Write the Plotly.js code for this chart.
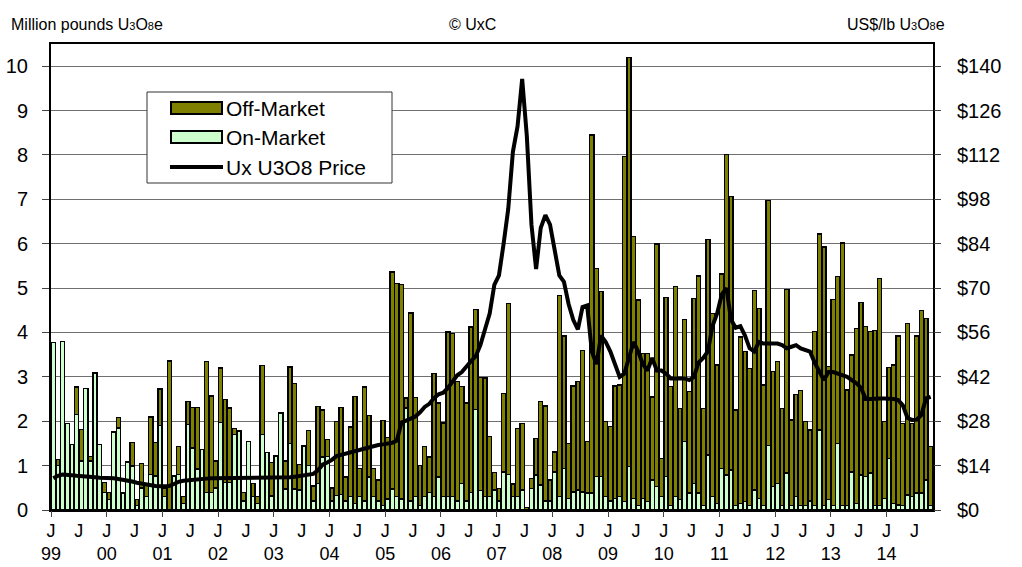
<!DOCTYPE html>
<html>
<head>
<meta charset="utf-8">
<script src="https://cdn.plot.ly/plotly-3.0.1.min.js"></script>
<style>
  html, body { margin: 0; padding: 0; background: #ffffff; }
  #chart { width: 1022px; height: 567px; }
</style>
</head>
<body>
<div id="chart"></div>
<script>
// Monthly data, Jan 1999 .. Oct 2014 (million pounds U3O8e)
const onMarket = [
  3.78, 1.0, 3.8, 1.95, 1.48, 2.15, 1.1, 2.74, 1.1, 3.09, 1.47, 0.39,
  0.24, 1.76, 1.85, 0.38, 1.08, 0.99, 0.1, 0.5, 0.3, 0.8, 0.77, 1.9,
  0.3, 0, 0.77, 0.8, 0.15, 1.93, 1.4, 0.92, 1.36, 0.39, 0.39, 0.5,
  1.97, 0.62, 0.62, 1.7, 1.78, 0.2, 1.55, 0.3, 0.15, 1.7, 1.3, 0.32,
  1.22, 2.19, 0.47, 1.5, 0.47, 0.45, 1.44, 1.0, 0.2, 0.6, 1.19, 1.2,
  0.2, 0.33, 0.35, 0.2, 0.3, 0.15, 0.3, 0.2, 0.74, 0.3, 0.2, 0.1,
  0.25, 0.47, 0.3, 0.25, 2.3, 0.2, 0.3, 0.1, 0.3, 0.4, 0.3, 0.74,
  0.3, 0.3, 0.3, 0.2, 0.6, 0.2, 0.4, 2.26, 0.44, 0.3, 0.3, 0.45,
  0.2, 0.86, 0.8, 0.3, 0.3, 0.45, 0, 0.49, 0.79, 0.56, 0.2, 0.2,
  0.86, 0.3, 0.94, 0.26, 0.41, 0.45, 0.41, 0.38, 0.38, 0.75, 0.75, 0.3,
  0.2, 0.26, 0.3, 0.19, 0.98, 0.26, 0.1, 0.26, 0.19, 0.68, 0.53, 0.3,
  0.75, 0.1, 0.3, 0.23, 1.54, 0.38, 0.6, 0.38, 0.1, 1.24, 0.3, 0.15,
  0.94, 0.79, 0.9, 0.1, 0.15, 0.19, 0.1, 0.45, 0.26, 0.1, 1.46, 0.53,
  0.6, 0.1, 0.83, 0.1, 0.3, 0.1, 0.1, 0.2, 0.1, 1.8, 0.1, 0.23,
  0.1, 1.5, 0.1, 0.1, 0.86, 0.15, 0.79, 0.75, 0.83, 0.1, 0.1, 0.26,
  1.16, 0.15, 0.11, 0.1, 0.34, 0.3, 0.38, 0.38, 0.68, 0.1
];
const offMarket = [
  0, 0.14, 0, 0, 0, 0.62, 0.72, 0, 0.1, 0, 0, 0.23,
  0.15, 0, 0.23, 0, 0, 0.53, 0.14, 0.55, 0.3, 1.3, 0.75, 0.83,
  0.2, 3.36, 0, 0.63, 0.15, 0.52, 0.91, 1.39, 0, 2.96, 2.18, 0.6,
  1.23, 1.87, 1.68, 0.13, 0, 0.2, 0, 0.3, 0.15, 1.56, 0, 0.75,
  0, 0, 0.63, 1.72, 2.38, 0.57, 0, 0.79, 0.34, 1.73, 1.06, 0.39,
  0.3, 1.67, 1.96, 0.54, 1.57, 2.41, 0.63, 2.57, 1.39, 0.63, 0.48, 1.92,
  1.39, 4.89, 4.81, 4.83, 0.22, 4.24, 2.24, 0.9, 1.13, 0.79, 2.77, 1.67,
  1.66, 3.71, 3.68, 2.7, 2.18, 2.21, 3.72, 2.26, 2.54, 2.67, 1.35, 0.39,
  0.29, 1.77, 3.85, 0.29, 1.54, 1.5, 0.05, 0.22, 0.82, 1.88, 2.14, 0.48,
  0.45, 4.54, 2.98, 1.24, 2.38, 2.44, 3.19, 1.16, 8.07, 4.69, 4.17, 1.69,
  1.68, 2.53, 2.52, 7.77, 9.22, 5.9, 4.63, 3.27, 3.34, 1.87, 5.46, 0.86,
  4.04, 2.68, 4.73, 2.06, 2.75, 2.29, 4.17, 4.89, 2.19, 4.86, 4.13, 3.12,
  4.38, 7.22, 6.16, 2.15, 3.75, 3.38, 3.09, 4.49, 4.28, 2.72, 5.52, 2.59,
  2.74, 2.19, 4.14, 1.93, 2.3, 2.59, 1.89, 1.6, 3.92, 4.42, 5.83, 3.0,
  4.64, 3.76, 5.92, 2.6, 2.63, 3.94, 3.88, 3.39, 3.19, 3.95, 5.12, 1.73,
  2.05, 3.12, 3.81, 1.85, 3.86, 1.65, 3.54, 4.12, 3.64, 1.33
];
// Ux U3O8 price, US$/lb, monthly
const uxPrice = [
  10.0, 10.8, 11.2, 11.2, 11.0, 10.8, 10.6, 10.5, 10.4, 10.3, 10.2, 10.2,
  10.1, 10.0, 9.8, 9.6, 9.3, 9.0, 8.6, 8.3, 8.0, 7.8, 7.6, 7.5,
  7.5, 7.6, 8.2, 8.9, 9.2, 9.4, 9.6, 9.7, 9.8, 9.9, 10.0, 10.0,
  10.1, 10.2, 10.2, 10.2, 10.2, 10.2, 10.1, 10.1, 10.2, 10.2, 10.2, 10.1,
  10.0, 10.0, 10.1, 10.3, 10.5, 10.7, 10.8, 11.0, 11.4, 12.5, 14.3, 15.0,
  15.8, 17.0, 17.4, 17.8, 18.2, 18.6, 19.0, 19.5, 20.0, 20.3, 20.5, 20.7,
  20.8, 21.2, 21.9, 27.6, 28.2, 28.8, 29.5, 30.8, 32.5, 33.5, 35.3, 36.5,
  37.0, 38.5, 40.5, 42.5, 43.5, 45.5, 47.0, 48.5, 52.0, 57.0, 62.0, 71.0,
  74.0, 84.0, 95.0, 113.0, 121.0, 136.0, 118.0, 90.0, 76.0, 89.0, 93.0, 90.0,
  82.0, 74.0, 72.0, 65.0, 60.0, 57.0, 64.0, 64.5, 50.0, 46.0, 55.0, 53.0,
  50.0, 46.0, 42.0, 43.0, 48.0, 53.0, 50.0, 46.0, 44.0, 48.0, 44.0, 44.0,
  43.0, 41.5, 41.5, 41.5, 41.5, 41.0, 42.0, 46.5, 48.0, 50.0, 58.0, 62.0,
  68.0, 70.0, 60.0, 57.5, 58.0, 55.0, 51.0, 50.0, 53.0, 52.5, 52.5, 52.5,
  52.5, 52.0, 51.0, 51.5, 52.0, 51.0, 50.5, 50.0, 46.5, 44.0, 41.0, 43.5,
  43.5, 43.0, 42.5, 42.0, 41.0, 40.0, 38.5, 35.0, 35.0, 35.2, 35.2, 35.2,
  35.2, 35.0, 34.7, 33.0, 29.0, 28.4, 28.5, 30.0, 35.2, 35.7
];
const yearLabels = ['99','00','01','02','03','04','05','06','07','08','09','10','11','12','13','14'];
const halfYearLabel = 'J';
const seriesNames = ['Off-Market', 'On-Market', 'Ux U3O8 Price'];
const seriesColors = ['#808000', '#CCFFCC', '#000000'];

const FONT = 'Liberation Sans, Arial, sans-serif';
const nMonths = onMarket.length;
const xMid = onMarket.map((_, i) => i + 0.5);

// plot-area geometry (pixels) used for header and legend placement
const W = 1022, H = 567, ML = 51, MR = 89, MT = 44, MB = 57;
const px = x => (x - ML) / (W - ML - MR);
const py = y => (H - MB - y) / (H - MT - MB);

// tick labels: J at Jan (with year) and Jul
const tickVals = [], tickText = [], yearTicks = [];
yearLabels.forEach((y, k) => {
  tickVals.push(k * 12); tickText.push(halfYearLabel + '<br>' + y);
  yearTicks.push(k * 12);
  if (k * 12 + 6 < nMonths) { tickVals.push(k * 12 + 6); tickText.push(halfYearLabel); }
});

const traces = [
  {
    type: 'bar', name: seriesNames[1], x: xMid, y: onMarket,
    marker: { color: seriesColors[1], line: { color: '#000000', width: 1.4 } },
    hoverinfo: 'skip'
  },
  {
    type: 'bar', name: seriesNames[0], x: xMid, y: offMarket,
    marker: { color: seriesColors[0], line: { color: '#000000', width: 1.4 } },
    hoverinfo: 'skip'
  },
  {
    type: 'scatter', mode: 'lines', name: seriesNames[2], x: xMid, y: uxPrice,
    xaxis: 'x2', yaxis: 'y2',
    line: { color: '#000000', width: 4 },
    hoverinfo: 'skip'
  }
];

const sub = s => '<span style="font-size:11px">' + s + '</span>';

// hand-built legend box (wide swatches as in the source chart)
const legBox = { x0: 147, y0: 92, x1: 392, y1: 183 };
const legRows = [108, 137, 167];
const shapes = [
  { type: 'rect', xref: 'paper', yref: 'paper', x0: px(legBox.x0), x1: px(legBox.x1),
    y0: py(legBox.y1), y1: py(legBox.y0), fillcolor: '#ffffff',
    line: { color: '#333333', width: 1 }, layer: 'above' },
  { type: 'rect', xref: 'paper', yref: 'paper', x0: px(171), x1: px(222),
    y0: py(legRows[0] + 6), y1: py(legRows[0] - 6), fillcolor: seriesColors[0],
    line: { color: '#000000', width: 2 }, layer: 'above' },
  { type: 'rect', xref: 'paper', yref: 'paper', x0: px(171), x1: px(222),
    y0: py(legRows[1] + 6), y1: py(legRows[1] - 6), fillcolor: seriesColors[1],
    line: { color: '#000000', width: 2 }, layer: 'above' },
  { type: 'line', xref: 'paper', yref: 'paper', x0: px(170), x1: px(223),
    y0: py(legRows[2]), y1: py(legRows[2]),
    line: { color: seriesColors[2], width: 4 }, layer: 'above' }
];
const legendNotes = seriesNames.map((name, k) => ({
  xref: 'paper', yref: 'paper', x: px(224), y: py(legRows[k]), xanchor: 'left', yanchor: 'middle',
  text: name, showarrow: false, font: { family: FONT, size: 21, color: '#000000' }
}));

const layout = {
  width: W, height: H,
  margin: { l: ML, r: MR, t: MT, b: MB },
  paper_bgcolor: '#ffffff', plot_bgcolor: '#ffffff',
  font: { family: FONT, size: 20, color: '#000000' },
  barmode: 'stack', bargap: 0.12,
  showlegend: false,
  xaxis: {
    range: [0, nMonths], tickmode: 'array', tickvals: tickVals, ticktext: tickText,
    ticks: '', showgrid: false, zeroline: false,
    showline: true, linecolor: '#000000', linewidth: 2, mirror: true,
    tickfont: { family: FONT, size: 18 }, ticklabelstandoff: 3
  },
  xaxis2: {
    overlaying: 'x', anchor: 'y', range: [0, nMonths],
    tickmode: 'array', tickvals: yearTicks, ticks: 'outside', ticklen: 6,
    tickcolor: '#444444', tickwidth: 1,
    showticklabels: false, showgrid: false, zeroline: false, showline: false
  },
  yaxis: {
    range: [0, 10.5], tickmode: 'linear', tick0: 0, dtick: 1,
    ticks: 'outside', ticklen: 7, tickcolor: '#444444',
    showgrid: true, gridcolor: '#707070', gridwidth: 1, zeroline: false,
    showline: true, linecolor: '#000000', linewidth: 2, mirror: true,
    tickfont: { family: FONT, size: 20 }, ticklabelstandoff: 10
  },
  yaxis2: {
    overlaying: 'y', side: 'right', anchor: 'x2', range: [0, 147],
    tickmode: 'linear', tick0: 0, dtick: 14, tickprefix: '$',
    ticks: 'outside', ticklen: 7, tickcolor: '#444444',
    showgrid: false, zeroline: false, showline: false,
    tickfont: { family: FONT, size: 20 }, ticklabelstandoff: 12
  },
  shapes: shapes,
  annotations: [
    { xref: 'paper', yref: 'paper', x: px(9), y: py(25), xanchor: 'left', yanchor: 'middle',
      text: 'Million pounds U' + sub('3') + 'O' + sub('8') + 'e', showarrow: false,
      font: { family: FONT, size: 16 } },
    { xref: 'paper', yref: 'paper', x: px(472), y: py(25), xanchor: 'center', yanchor: 'middle',
      text: '© UxC', showarrow: false, font: { family: FONT, size: 16 } },
    { xref: 'paper', yref: 'paper', x: px(947), y: py(25), xanchor: 'right', yanchor: 'middle',
      text: 'US$/lb U' + sub('3') + 'O' + sub('8') + 'e', showarrow: false,
      font: { family: FONT, size: 16 } }
  ].concat(legendNotes)
};

Plotly.newPlot('chart', traces, layout, { staticPlot: true, displayModeBar: false });
</script>
</body>
</html>
